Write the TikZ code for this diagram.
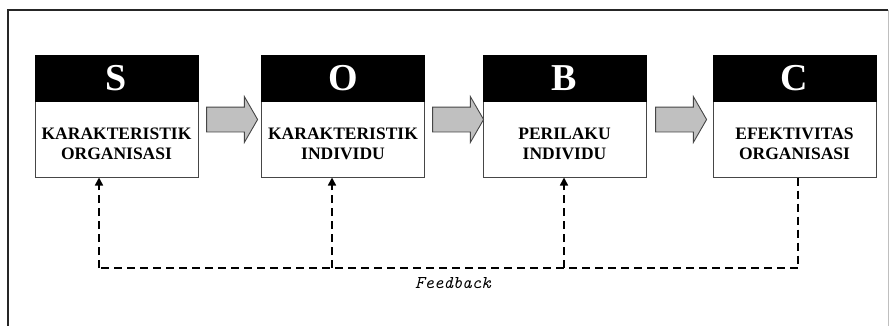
\documentclass[tikz,border=0pt]{standalone}
\usepackage{fontspec}
\setmainfont{Liberation Serif}
\usetikzlibrary{shapes.arrows,arrows.meta}
\definecolor{arrowgray}{RGB}{192,192,192}
\definecolor{edgegray}{RGB}{70,70,70}
\tikzset{
  head/.style={fill=black, draw=black, minimum width=163pt, minimum height=46pt, inner sep=0pt,
    text=white, font=\fontsize{38}{40}\selectfont\bfseries},
  body/.style={fill=white, draw=edgegray, line width=0.9pt, minimum width=163pt, minimum height=76pt, inner sep=0pt},
  label/.style={align=center, font=\fontsize{17.5}{20.5}\selectfont\bfseries, inner sep=0pt},
  grayarrow/.style={single arrow, fill=arrowgray, draw=edgegray, line width=0.9pt,
    minimum height=51pt, minimum width=45pt, inner xsep=0pt, inner ysep=12pt,
    text height=0pt, text depth=0pt, single arrow head extend=10.5pt, single arrow tip angle=120},
  fb/.style={dashed, dash pattern=on 8pt off 5pt, line width=1.6pt, black},
  fbtip/.style={-{Triangle[length=8pt,width=8pt]}}
}
\begin{document}
\begin{tikzpicture}[x=1pt,y=-1pt]
\useasboundingbox (0,0) rectangle (891,325);
\fill[white] (0,0) rectangle (891,325);
% frame
\draw[line width=1.5pt, black!85] (8,330) -- (8,10) -- (888,10);
\draw[line width=0.6pt, black!25] (888,10) -- (888,330);

% boxes
\node[body] (sb) at (116.5,139) {};
\node[head] (sh) at (116.5,78) {S};
\node[label] (st) at (116.5,144) {KARAKTERISTIK\\ORGANISASI};

\node[body] (ob) at (343,139) {};
\node[head] (oh) at (343,78) {O};
\node[label] (ot) at (343,144) {KARAKTERISTIK\\INDIVIDU};

\node[body] (bb) at (564.5,139) {};
\node[head] (bh) at (564.5,78) {B};
\node[label] (bt) at (564.5,144) {PERILAKU\\INDIVIDU};

\node[body] (cb) at (794.5,139) {};
\node[head] (ch) at (794.5,78) {C};
\node[label] (ct) at (794.5,144) {EFEKTIVITAS\\ORGANISASI};

% block arrows
\node[grayarrow] (a1) at (228.5,119.5) {};
\node[grayarrow] (a2) at (454.5,119.5) {};
\node[grayarrow] (a3) at (677.5,119.5) {};

% feedback
\coordinate (fS) at (99,177.5);
\coordinate (fO) at (332,177.5);
\coordinate (fB) at (564,177.5);
\coordinate (fC) at (798,177.5);
\coordinate (kS) at (99,268);
\coordinate (kO) at (332,268);
\coordinate (kB) at (564,268);
\coordinate (kC) at (798,268);
\draw[fb] (fC) -- (kC) -- (kS);
\draw[fb,fbtip] (kS) -- (fS);
\draw[fb,fbtip] (kO) -- (fO);
\draw[fb,fbtip] (kB) -- (fB);
\node[font=\ttfamily\itshape\fontsize{18}{20}\selectfont, inner sep=0pt] (fbl) at (453,283) {Feedback};
\end{tikzpicture}
\end{document}
